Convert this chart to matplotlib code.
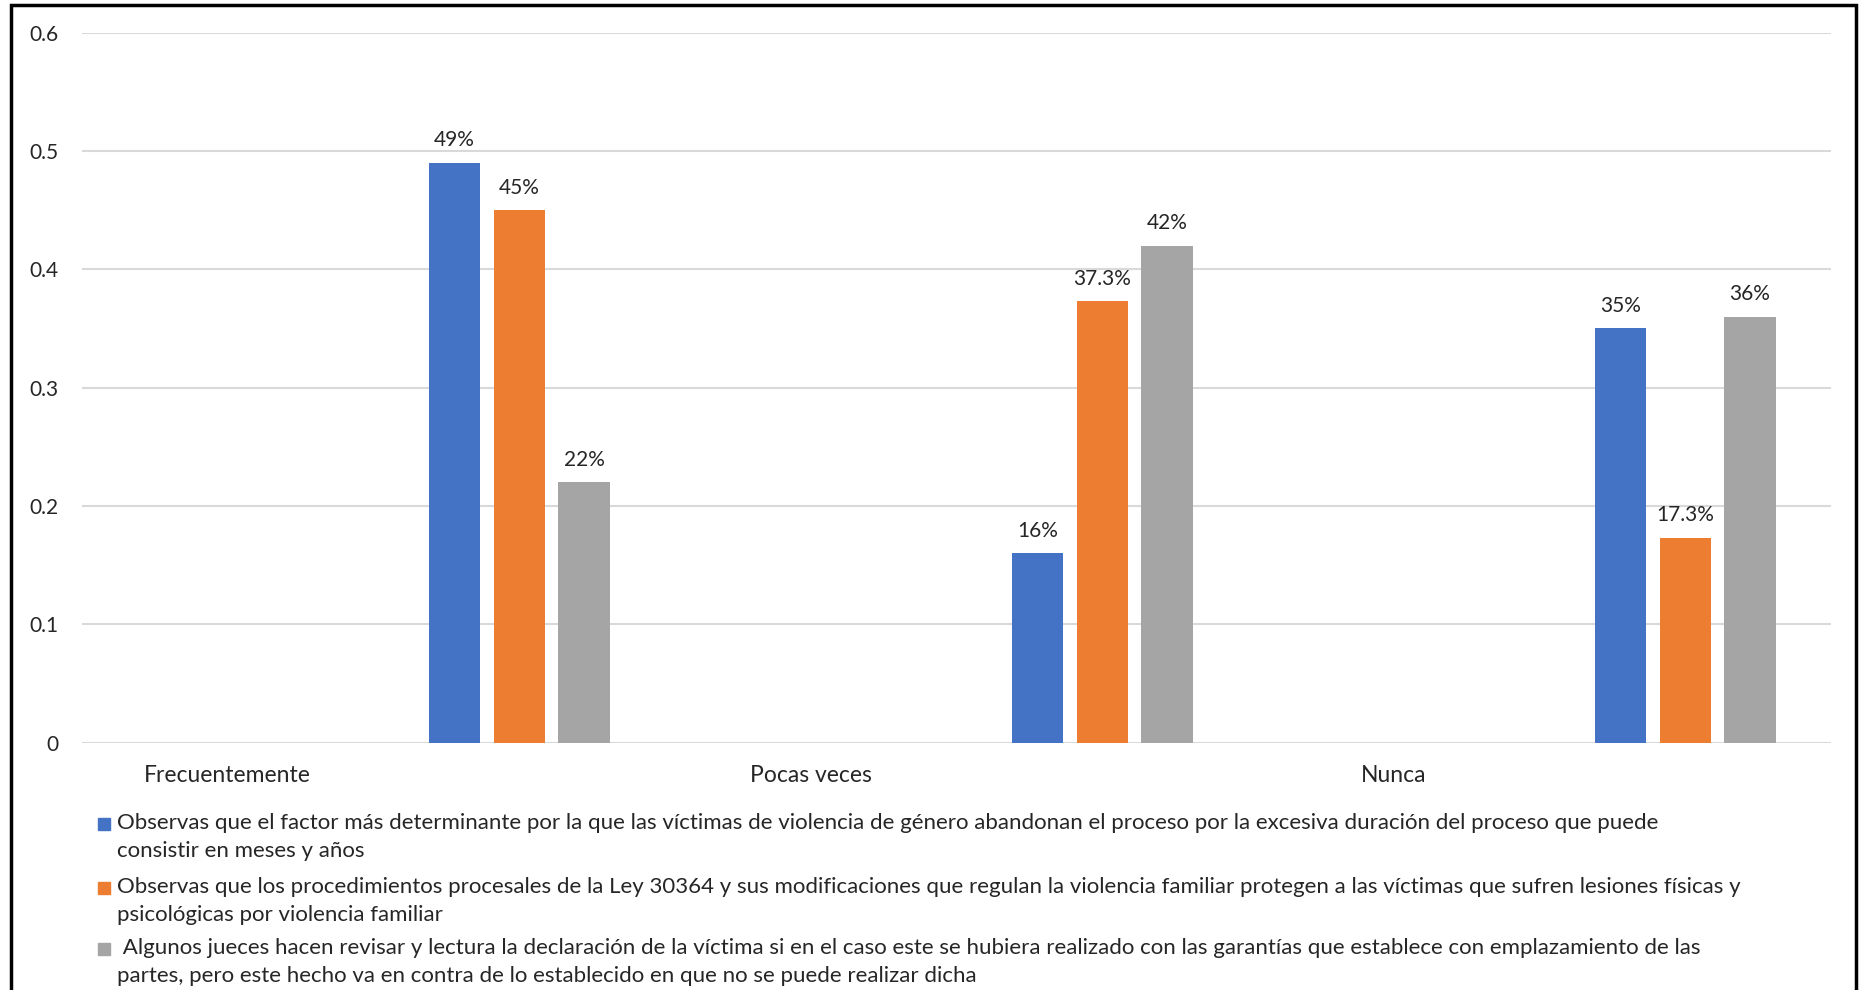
import numpy as np
import matplotlib
matplotlib.use("Agg")
import matplotlib.pyplot as plt
from matplotlib.patches import Rectangle
from matplotlib.ticker import FuncFormatter

# ---- data ----
categories = ["Frecuentemente", "Pocas veces", "Nunca"]
series_labels = [
    "Observas que el factor más determinante por la que las víctimas de violencia de género abandonan el proceso por la excesiva duración del proceso que puede\nconsistir en meses y años",
    "Observas que los procedimientos procesales de la Ley 30364 y sus modificaciones que regulan la violencia familiar protegen a las víctimas que sufren lesiones físicas y\npsicológicas por violencia familiar",
    " Algunos jueces hacen revisar y lectura la declaración de la víctima si en el caso este se hubiera realizado con las garantías que establece con emplazamiento de las\npartes, pero este hecho va en contra de lo establecido en que no se puede realizar dicha",
]
values_blue = [0.49, 0.16, 0.35]
values_orange = [0.45, 0.373, 0.173]
values_gray = [0.22, 0.42, 0.36]
data_labels_blue = ["49%", "16%", "35%"]
data_labels_orange = ["45%", "37.3%", "17.3%"]
data_labels_gray = ["22%", "42%", "36%"]
y_ticks = [0, 0.1, 0.2, 0.3, 0.4, 0.5, 0.6]

colors = ["#4472C4", "#ED7D31", "#A5A5A5"]
FONT = "Lato"
TXT = "#262626"

W, H = 1861, 990
fig = plt.figure(figsize=(W / 100, H / 100), dpi=100)
ax = fig.add_axes([82 / W, 1 - 742.6 / H, (1831 - 82) / W, (742.6 - 32.7) / H])

x = np.arange(len(categories))
bw = 0.088
step = 0.111
all_vals = [values_blue, values_orange, values_gray]
all_lbls = [data_labels_blue, data_labels_orange, data_labels_gray]
for k, (vals, lbls) in enumerate(zip(all_vals, all_lbls)):
    bars = ax.bar(x + 0.25 + (k - 1) * step, vals, width=bw, color=colors[k], zorder=3)
    ax.bar_label(bars, labels=lbls, padding=9, fontsize=15, color=TXT, family=FONT)

ax.set_xlim(-0.5, len(categories) - 0.5)
ax.set_ylim(0, 0.6)
ax.set_yticks(y_ticks)
ax.yaxis.set_major_formatter(FuncFormatter(lambda v, p: f"{v:g}"))
ax.set_xticks(x - 0.25)
ax.set_xticklabels(categories)
ax.tick_params(axis="both", length=0, labelcolor=TXT)
ax.tick_params(axis="y", pad=17, labelsize=15)
ax.tick_params(axis="x", pad=16, labelsize=16.5)
for lab in ax.get_xticklabels() + ax.get_yticklabels():
    lab.set_family(FONT)
for s in ax.spines.values():
    s.set_visible(False)
ax.yaxis.grid(True, color="#d9d9d9", lw=1.5, zorder=0)
ax.set_axisbelow(True)

# ---- legend (manual, handles aligned to first line) ----
baselines = [831, 895, 955.5]
for k, lbl in enumerate(series_labels):
    yb = baselines[k]
    fig.add_artist(Rectangle((98 / W, 1 - (yb - 1) / H), 12 / W, 12 / H,
                             transform=fig.transFigure, color=colors[k]))
    fig.text(116.7 / W, 1 - (yb - 18) / H, lbl, fontsize=16, family=FONT, color=TXT,
             va="top", ha="left", linespacing=1.5)

# ---- outer border ----
fig.add_artist(Rectangle((10.5 / W, -0.02), (1856 - 10.5) / W, 1.02 - 5.5 / H,
                         transform=fig.transFigure, fill=False, ec="black", lw=2.5))

fig.savefig("out.png", dpi=100)
